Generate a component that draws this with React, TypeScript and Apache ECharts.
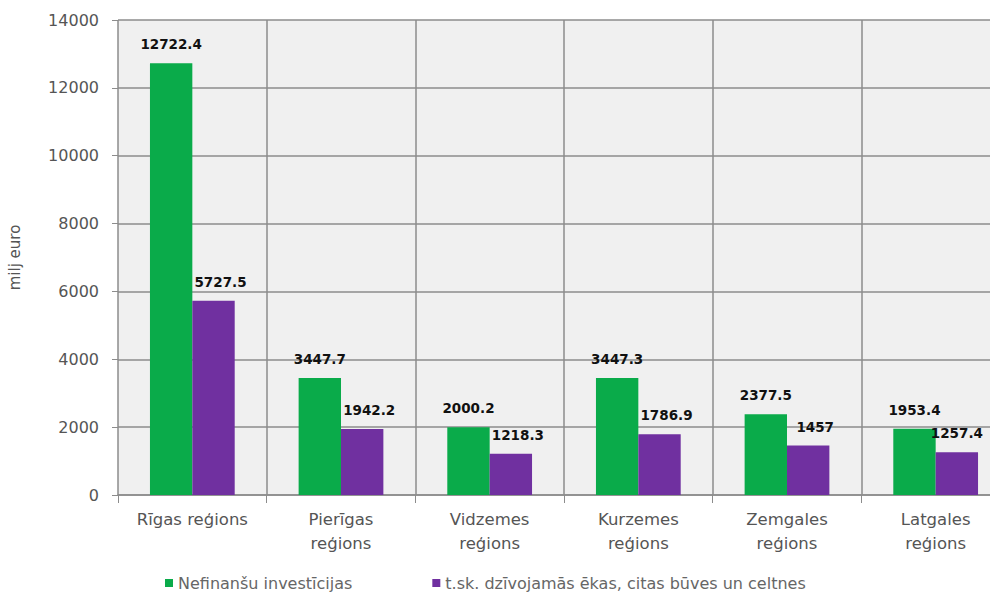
import React, { useEffect, useRef } from "react";
import * as echarts from "echarts";

const categories = [
  "Rīgas reģions",
  "Pierīgas\nreģions",
  "Vidzemes\nreģions",
  "Kurzemes\nreģions",
  "Zemgales\nreģions",
  "Latgales\nreģions",
];
const seriesNames = [
  "Nefinanšu investīcijas",
  "t.sk. dzīvojamās ēkas, citas būves un celtnes",
];
const investments = [12722.4, 3447.7, 2000.2, 3447.3, 2377.5, 1953.4];
const buildings = [5727.5, 1942.2, 1218.3, 1786.9, 1457, 1257.4];
const yTicks = { min: 0, max: 14000, interval: 2000 };

const FONT = "'DejaVu Sans', 'Liberation Sans', Arial, sans-serif";

export default function App() {
  const ref = useRef<HTMLDivElement>(null);
  useEffect(() => {
    if (!ref.current) return;
    const chart = echarts.init(ref.current, undefined, { renderer: "svg" });
    const labelStyle = {
      show: true,
      position: "top" as const,
      distance: 12,
      fontFamily: FONT,
      fontSize: 13.5,
      fontWeight: "bold" as const,
      color: "#111",
    };
    const last = buildings.length - 1;
    chart.setOption({
      animation: false,
      backgroundColor: "#ffffff",
      textStyle: { fontFamily: FONT },
      grid: {
        left: 118,
        top: 20,
        bottom: 103,
        width: 892,
        containLabel: false,
        outerBoundsMode: "none",
        show: true,
        backgroundColor: "#f0f0f0",
        borderWidth: 0,
      },
      legend: {
        left: 160,
        top: 570,
        icon: "rect",
        itemWidth: 8,
        itemHeight: 8,
        itemGap: 80,
        textStyle: { fontFamily: FONT, fontSize: 16, color: "#666" },
        data: seriesNames,
      },
      xAxis: {
        type: "category",
        data: categories,
        axisLine: { show: true, lineStyle: { color: "#8c8c8c", width: 1.5 } },
        axisTick: { show: true, length: 8, lineStyle: { color: "#8c8c8c" } },
        splitLine: { show: true, lineStyle: { color: "#8c8c8c", width: 1.5 } },
        axisLabel: {
          fontFamily: FONT,
          fontSize: 16.5,
          color: "#555",
          lineHeight: 24,
          margin: 12,
          interval: 0,
        },
      },
      yAxis: {
        type: "value",
        min: yTicks.min,
        max: yTicks.max,
        interval: yTicks.interval,
        name: "milj euro",
        nameLocation: "middle",
        nameGap: 96,
        nameRotate: 90,
        nameTextStyle: { fontFamily: FONT, fontSize: 15, color: "#555" },
        axisLine: { show: false },
        axisTick: { show: true, length: 6, lineStyle: { color: "#8c8c8c" } },
        splitLine: { show: true, lineStyle: { color: "#8c8c8c", width: 1.5 } },
        axisLabel: {
          fontFamily: FONT,
          fontSize: 16,
          color: "#555",
          margin: 19,
          formatter: (v: number) => String(v),
        },
      },
      series: [
        {
          name: seriesNames[0],
          type: "bar",
          data: investments,
          barGap: "0%",
          barCategoryGap: "43%",
          itemStyle: { color: "#0aab4a" },
          label: labelStyle,
        },
        {
          name: seriesNames[1],
          type: "bar",
          data: buildings.map((v, i) =>
            i === last ? { value: v, label: { offset: [0, 0] } } : v
          ),
          itemStyle: { color: "#7030a0" },
          label: { ...labelStyle, offset: [7, 0] },
        },
      ],
    });
    return () => chart.dispose();
  }, []);
  return (
    <div
      ref={ref}
      style={{ position: "fixed", left: 0, top: 0, width: 990, height: 598 }}
    />
  );
}
